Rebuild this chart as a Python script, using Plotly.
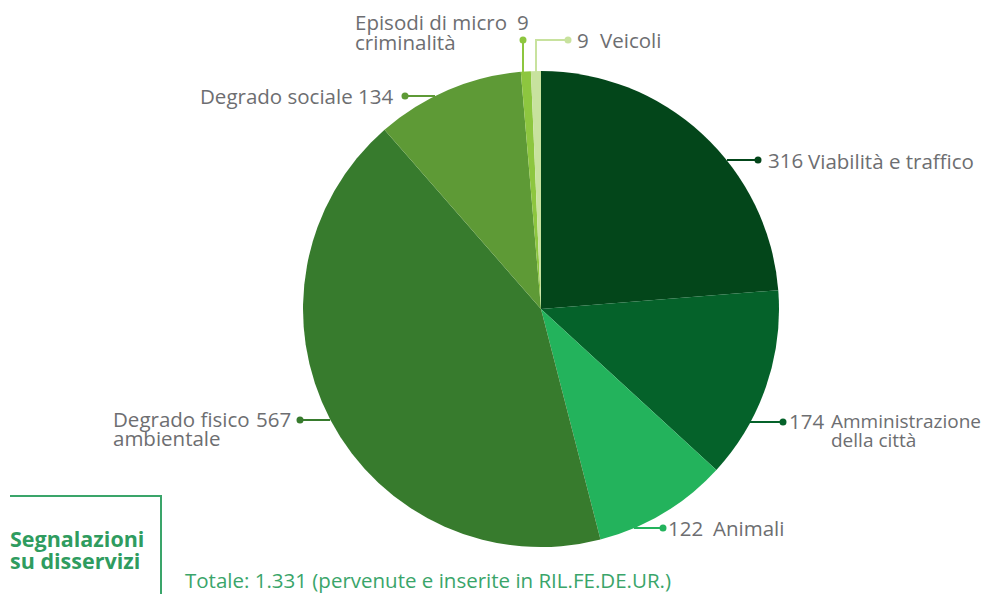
import plotly.graph_objects as go

W, H = 997, 594
OFF = 8  # margine del body nella pagina html

# dati: segnalazioni su disservizi per categoria
categorie = ['Viabilità e traffico', 'Amministrazione della città', 'Animali',
             'Degrado fisico ambientale', 'Degrado sociale',
             'Episodi di micro criminalità', 'Veicoli']
valori = [316, 174, 122, 567, 134, 9, 9]
colori = ['#03461a', '#05622a', '#23b35c', '#377b2d', '#5e9a36', '#8dc63f', '#c8e29e']
totale_testo = 'Totale: 1.331 (pervenute e inserite in RIL.FE.DE.UR.)'
titolo = ['Segnalazioni', 'su disservizi']

GRIGIO = '#6d6e71'
VERDE_TXT = '#2f9c5f'
FONT = 'Open Sans'
FW, FH = W - OFF, H - OFF


# coordinate in pixel della pagina -> coordinate paper
def px(x):
    return (x - OFF) / FW


def py(y):
    return 1 - (y - OFF) / FH


# centro e raggio della torta in pixel
cx, cy, r = 541, 309, 238

fig = go.Figure()
fig.add_trace(go.Pie(
    labels=categorie,
    values=valori,
    marker=dict(colors=colori, line=dict(width=0)),
    sort=False,
    direction='clockwise',
    rotation=0,
    textinfo='none',
    hoverinfo='label+value',
    showlegend=False,
    domain=dict(x=[px(cx - r), px(cx + r)], y=[py(cy + r), py(cy - r)]),
))

shapes = []
annotations = []


def linea(pts, color):
    path = 'M ' + ' L '.join(f'{px(x)},{py(y)}' for x, y in pts)
    shapes.append(dict(type='path', xref='paper', yref='paper', path=path,
                       line=dict(color=color, width=2)))


def punto(x, y, color, rr=3.5):
    shapes.append(dict(type='circle', xref='paper', yref='paper',
                       x0=px(x - rr), x1=px(x + rr), y0=py(y + rr), y1=py(y - rr),
                       fillcolor=color, line=dict(width=0)))


def testo(t, x, y, anchor='left', color=GRIGIO, size=20.5, bold=False):
    if bold:
        t = f'<b>{t}</b>'
    annotations.append(dict(text=t, x=px(x), y=py(y), xref='paper', yref='paper',
                            xanchor=anchor, yanchor='middle', showarrow=False,
                            font=dict(family=FONT, size=size, color=color)))


# linee guida e etichette
linea([(727, 160), (758, 160)], colori[0]); punto(758, 160, colori[0])
testo(str(valori[0]), 766, 160); testo('Viabilità e traffico', 806, 161)

linea([(750, 422), (783, 422)], colori[1]); punto(783, 422, colori[1])
testo(str(valori[1]), 787, 421)
testo('Amministrazione', 829, 421, size=19); testo('della città', 829, 440, size=19)

linea([(634, 528), (663, 528)], colori[2]); punto(663, 528, colori[2])
testo(str(valori[2]), 666, 528); testo('Animali', 711, 528)

linea([(300, 420), (330, 420)], colori[3]); punto(300, 420, colori[3])
testo('Degrado fisico', 111, 419); testo(str(valori[3]), 254, 419); testo('ambientale', 111, 438)

linea([(405, 96), (435, 96)], colori[4]); punto(405, 96, colori[4])
testo(f'Degrado sociale {valori[4]}', 395, 96, anchor='right')

linea([(523, 40), (523, 74)], colori[5]); punto(523, 40, colori[5])
testo('Episodi di micro', 353, 22); testo(str(valori[5]), 515, 22); testo('criminalità', 353, 42)

linea([(568, 40), (536, 40), (536, 73)], colori[6]); punto(568, 40, colori[6])
testo(str(valori[6]), 575, 40); testo('Veicoli', 598, 40)

# riquadro titolo
linea([(10, 496), (161, 496), (161, 594)], '#3aa56a')
testo(titolo[0], 8, 538, color=VERDE_TXT, size=21.5, bold=True)
testo(titolo[1], 8, 560, color=VERDE_TXT, size=21.5, bold=True)
testo(totale_testo, 183, 580, color='#3aa56a')

fig.update_layout(
    width=FW, height=FH,
    margin=dict(l=0, r=0, t=0, b=0),
    paper_bgcolor='white',
    plot_bgcolor='white',
    shapes=shapes,
    annotations=annotations,
)

fig.write_html('out.html')
